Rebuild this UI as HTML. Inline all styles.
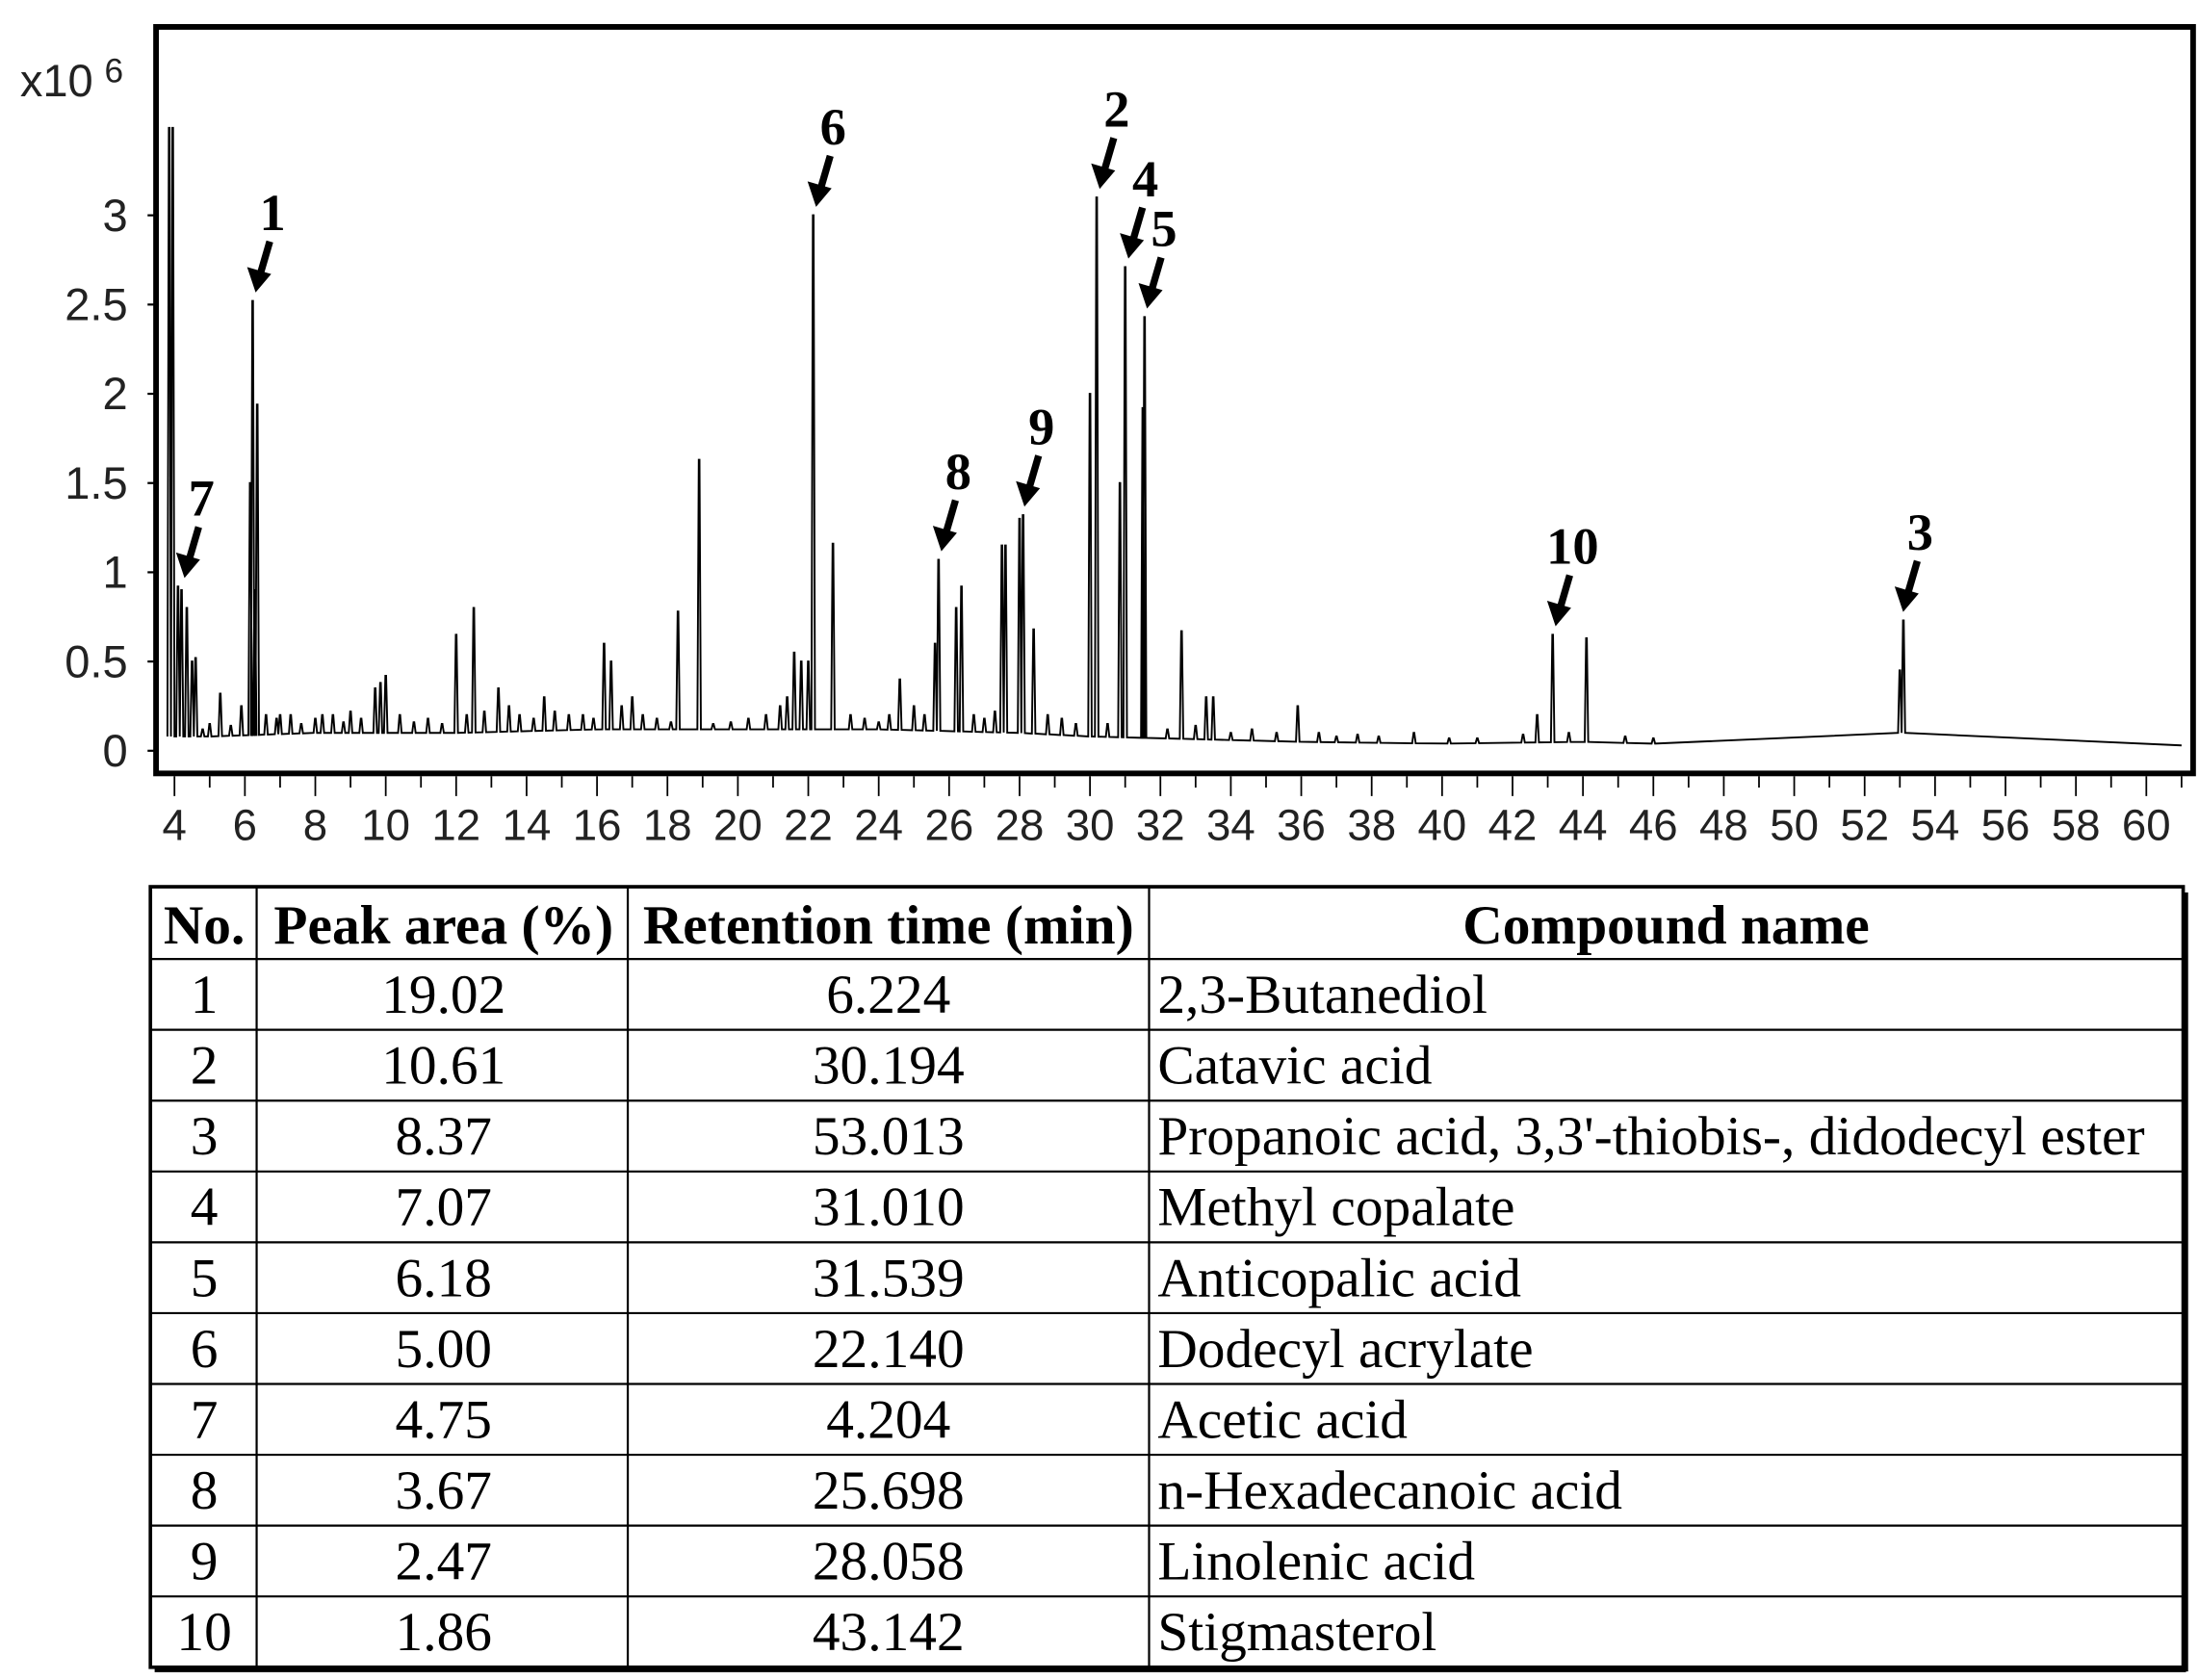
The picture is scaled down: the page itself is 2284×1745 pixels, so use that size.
<!DOCTYPE html>
<html><head><meta charset="utf-8"><style>
html,body{margin:0;padding:0;background:#fff;}
svg{display:block;}
.ax{font-family:"Liberation Sans",sans-serif;font-size:31px;fill:#222;}
.ay{font-family:"Liberation Sans",sans-serif;font-size:32px;fill:#222;}
.an{font-family:"Liberation Serif",serif;font-size:37px;font-weight:bold;fill:#000;}
.tb{font-family:"Liberation Serif",serif;font-size:39px;fill:#000;}
.th{font-family:"Liberation Serif",serif;font-size:39px;font-weight:bold;fill:#000;}
</style></head><body>
<svg id="svg" width="2284" height="1745" viewBox="0 0 1552 1186" xmlns="http://www.w3.org/2000/svg">
<rect width="1552" height="1186" fill="#fff"/>
<g id="plot"></g>
<rect x="110" y="19" width="1438" height="527" fill="none" stroke="#000" stroke-width="4"/>
<text x="14" y="68" class="ay" font-size="28">x10<tspan dx="8" dy="-10" font-size="24">6</tspan></text>
<g id="yt"></g>
<g id="xt"></g>
<g id="ann"></g>
<g id="table"></g>
</svg>
<script>
const peakTimes=[3.85,3.95,4.1,4.2,4.35,4.5,4.6,5.3,5.9,6.15,6.22,6.28,6.35,7.0,8.2,9.0,9.7,9.85,10.0,12.0,12.5,13.2,14.5,16.2,16.4,17.0,18.3,18.9,21.6,21.8,22.0,22.14,22.7,24.6,25.6,25.7,26.2,26.35,27.5,27.6,28.0,28.1,28.4,30.0,30.19,30.85,31.0,31.5,31.55,32.6,33.3,33.5,35.9,39.2,42.7,43.14,44.1,53.0,53.1,
 4.8,5.0,5.6,6.6,6.9,7.3,7.6,8.0,8.5,8.8,9.3,10.4,10.8,11.2,11.6,12.3,12.8,13.5,13.8,14.2,14.8,15.2,15.6,15.9,16.7,17.3,17.7,18.1,19.3,19.8,20.3,20.8,21.2,21.4,23.2,23.6,24.0,24.3,25.0,25.3,26.7,27.0,27.3,28.8,29.2,29.6,30.5,32.2,33.0,34.0,34.6,35.3,36.5,37.0,37.6,38.2,40.2,41.0,42.3,43.6,45.2,46.0];
const peakHeights=[3.49,3.49,0.92,0.9,0.8,0.5,0.52,0.32,0.25,1.5,2.52,0.9,1.94,0.2,0.2,0.22,0.35,0.38,0.42,0.65,0.8,0.35,0.3,0.6,0.5,0.3,0.78,1.63,0.55,0.5,0.5,3.0,1.16,0.4,0.6,1.07,0.8,0.92,1.15,1.15,1.3,1.32,0.68,2.0,3.1,1.5,2.71,1.92,2.43,0.67,0.3,0.3,0.25,0.1,0.2,0.65,0.63,0.45,0.73,
 0.12,0.15,0.14,0.2,0.18,0.2,0.15,0.18,0.2,0.16,0.18,0.2,0.16,0.18,0.15,0.2,0.22,0.25,0.2,0.18,0.22,0.2,0.2,0.18,0.25,0.2,0.18,0.16,0.15,0.16,0.18,0.2,0.25,0.3,0.2,0.18,0.16,0.2,0.25,0.2,0.2,0.18,0.22,0.2,0.18,0.15,0.15,0.12,0.14,0.1,0.12,0.1,0.1,0.08,0.09,0.08,0.07,0.07,0.09,0.1,0.08,0.07];
const baseTimes=[3.8,5,8,12,16,20,24,28,30,32,34,36,40,44,46,48,52,52.6,53.6,55,61];
const baseVals=[0.08,0.08,0.1,0.1,0.12,0.12,0.12,0.1,0.08,0.07,0.06,0.05,0.04,0.05,0.04,0.03,0.03,0.1,0.1,0.03,0.03];
const yTicks=[0,0.5,1,1.5,2,2.5,3];
const xTicks=[4,6,8,10,12,14,16,18,20,22,24,26,28,30,32,34,36,38,40,42,44,46,48,50,52,54,56,58,60];
const labels=["1","2","3","4","5","6","7","8","9","10"];
const labelTimes=[6.224,30.194,53.013,31.010,31.539,22.140,4.204,25.698,28.058,43.142];
const labelHeights=[2.52,3.1,0.73,2.71,2.43,3.0,0.92,1.07,1.32,0.65];
const headers=["No.","Peak area (%)","Retention time (min)","Compound name"];
const areas=["19.02","10.61","8.37","7.07","6.18","5.00","4.75","3.67","2.47","1.86"];
const rts=["6.224","30.194","53.013","31.010","31.539","22.140","4.204","25.698","28.058","43.142"];
const names=["2,3-Butanediol","Catavic acid","Propanoic acid, 3,3'-thiobis-, didodecyl ester","Methyl copalate","Anticopalic acid","Dodecyl acrylate","Acetic acid","n-Hexadecanoic acid","Linolenic acid","Stigmasterol"];

const NS="http://www.w3.org/2000/svg";
const X=t=>123+(t-4)*24.857;
const Y=v=>530-v*126;
function mk(tag,attrs,parent){const e=document.createElementNS(NS,tag);for(const k in attrs)e.setAttribute(k,attrs[k]);parent.appendChild(e);return e;}
function base(t){for(let i=0;i<baseTimes.length-1;i++){if(t>=baseTimes[i]&&t<=baseTimes[i+1]){const f=(t-baseTimes[i])/(baseTimes[i+1]-baseTimes[i]);return baseVals[i]+f*(baseVals[i+1]-baseVals[i]);}}return baseVals[baseVals.length-1];}
const plotG=document.getElementById('plot');
let pd="M"+X(baseTimes[0])+","+Y(baseVals[0]);
const order=peakTimes.map((t,i)=>i).sort((a,b)=>peakTimes[a]-peakTimes[b]);
order.forEach(i=>{const t=peakTimes[i];const b=base(t);pd+=" L"+X(t-0.05)+","+Y(b)+" L"+X(t-0.01)+","+Y(peakHeights[i])+" L"+X(t+0.01)+","+Y(peakHeights[i])+" L"+X(t+0.05)+","+Y(b);});
pd+=" L"+X(61)+","+Y(base(61));
const trace=mk('path',{d:pd,fill:'none',stroke:'#000','stroke-width':1.3},plotG);


const ytG=document.getElementById('yt');
yTicks.forEach(v=>{
 const tk=mk('line',{x1:104,x2:112,y1:Y(v),y2:Y(v),stroke:'#000','stroke-width':1.5},ytG);
 
 
 const tx=mk('text',{x:90,y:Y(v)+11,'text-anchor':'end',class:'ay'},ytG);tx.textContent=v;
 
 
});
const xtG=document.getElementById('xt');
for(let t=4;t<=61;t+=1){const tk=mk('line',{x1:X(t),x2:X(t),y1:548,y2:t%2===0?562:556,stroke:'#000','stroke-width':1.2},xtG);
 
 }
xTicks.forEach(t=>{const tx=mk('text',{x:X(t),y:593,'text-anchor':'middle',class:'ax'},xtG);tx.textContent=t;
 
 });
const annG=document.getElementById('ann');
labels.forEach((l,i)=>{
 const px=X(labelTimes[i]),py=Y(labelHeights[i]);
 const ex=px+2,ey=py-6,sx=ex+10,sy=ey-36;
 const g=mk('g',{},annG);
 
 
 mk('line',{x1:sx,y1:sy,x2:ex+3,y2:ey-12,stroke:'#000','stroke-width':5},g);
 mk('polygon',{points:`${ex},${ey} ${ex-6},${ey-18} ${ex+11},${ey-13}`,fill:'#000'},g);
 const tx=mk('text',{x:sx+2,y:sy-8,'text-anchor':'middle',class:'an'},g);tx.textContent=l;
});
const tbG=document.getElementById('table');
const cols=[106,181,443,811,1541],tTop=626,hh=51,rh=50;
const tBottom=tTop+hh+rh*10;
mk('rect',{x:106,y:tTop,width:1435,height:tBottom-tTop,fill:'none',stroke:'#000','stroke-width':2.5},tbG);
mk('line',{x1:1543,y1:tTop+4,x2:1543,y2:tBottom+3,stroke:'#000','stroke-width':3},tbG);
mk('line',{x1:109,y1:tBottom+2,x2:1543,y2:tBottom+2,stroke:'#000','stroke-width':3},tbG);
cols.slice(1,4).forEach(c=>mk('line',{x1:c,x2:c,y1:tTop,y2:tBottom,stroke:'#000','stroke-width':1.5},tbG));
for(let r=0;r<=10;r++){const y=tTop+hh+r*rh;mk('line',{x1:106,x2:1541,y1:y,y2:y,stroke:'#000','stroke-width':1.5},tbG);}
const hx=[144,313,627,1176];
headers.forEach((h,i)=>{const t=mk('text',{x:hx[i],y:tTop+40,'text-anchor':'middle',class:'th'},tbG);t.textContent=h;
 
 });
for(let r=0;r<10;r++){
 const y=tTop+hh+r*rh+38;
 const vals=[String(r+1),areas[r],rts[r]];
 vals.forEach((v,i)=>{const t=mk('text',{x:hx[i],y:y,'text-anchor':'middle',class:'tb'},tbG);t.textContent=v;
  
  });
 const nt=mk('text',{x:817,y:y,class:'tb'},tbG);nt.textContent=names[r];
 
 
}
</script>
</body></html>
